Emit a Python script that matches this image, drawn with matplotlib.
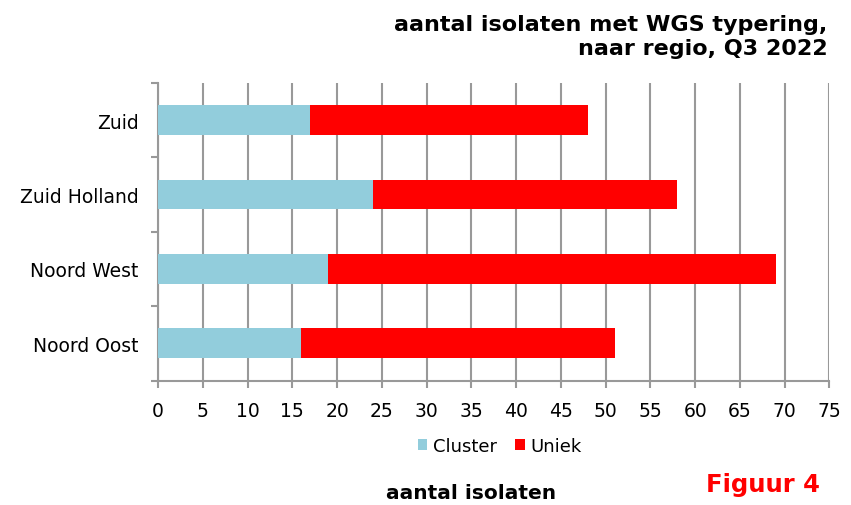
import matplotlib.pyplot as plt
import numpy as np

regions = ["Noord Oost", "Noord West", "Zuid Holland", "Zuid"]
cluster = [16, 19, 24, 17]
uniek = [35, 50, 34, 31]

CLUSTER_COLOR = "#92cddc"
UNIEK_COLOR = "#ff0000"
GRID_COLOR = "#999999"

fig = plt.figure(figsize=(8.51, 5.06), dpi=100)
ax = fig.add_axes([0.1857, 0.246, 0.789, 0.588])

y = np.arange(len(regions))
ax.barh(y, cluster, height=0.4, color=CLUSTER_COLOR, label="Cluster", zorder=3)
ax.barh(y, uniek, left=cluster, height=0.4, color=UNIEK_COLOR, label="Uniek", zorder=3)

ax.set_xlim(0, 75)
ax.set_ylim(-0.5, len(regions) - 0.5)
ax.set_xticks(np.arange(0, 76, 5))
ax.set_yticks(y)
ax.set_yticklabels(regions)
ax.set_yticks(np.arange(-0.5, len(regions), 1), minor=True)

ax.grid(axis="x", color=GRID_COLOR, linewidth=1.5, zorder=0)
for side in ["top", "right"]:
    ax.spines[side].set_visible(False)
for side in ["left", "bottom"]:
    ax.spines[side].set_color(GRID_COLOR)
    ax.spines[side].set_linewidth(1.5)

ax.tick_params(axis="y", which="major", length=0, pad=14, labelsize=13.5)
ax.tick_params(axis="y", which="minor", length=5, width=1.5, color=GRID_COLOR)
ax.tick_params(axis="x", length=5, width=1.5, color=GRID_COLOR, labelsize=13.5, pad=10)

fig.text(0.972, 0.926, "aantal isolaten met WGS typering,\nnaar regio, Q3 2022",
         ha="right", va="center", fontsize=16, fontweight="bold", linespacing=1.25)

fig.legend(loc="center", bbox_to_anchor=(0.587, 0.117), ncol=2, frameon=False,
           fontsize=13, handlelength=0.55, handleheight=0.55, handletextpad=0.3,
           columnspacing=1.0)

fig.text(0.553, 0.025, "aantal isolaten", ha="center", va="center",
         fontsize=14.5, fontweight="bold")
fig.text(0.897, 0.041, "Figuur 4", ha="center", va="center",
         fontsize=17.5, fontweight="bold", color="#ff0000")

fig.savefig("out.png", dpi=100)
